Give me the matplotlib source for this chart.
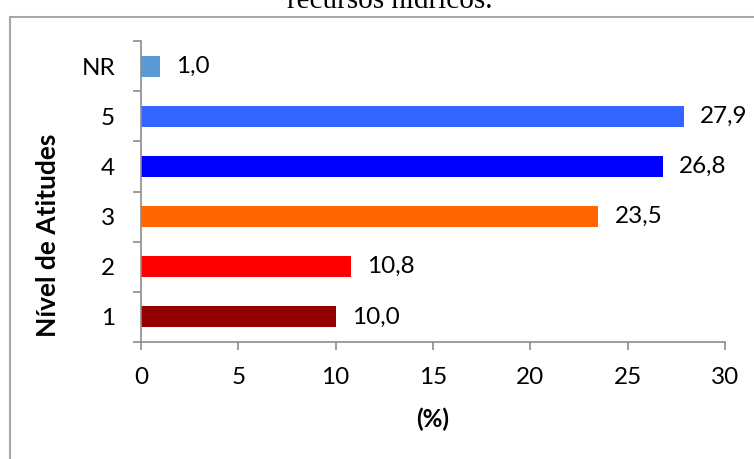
import matplotlib
matplotlib.use('Agg')
import matplotlib.pyplot as plt
from matplotlib.patches import Rectangle

# ─────────────────────────────────────────────
# Data
# ─────────────────────────────────────────────
categories = ['1', '2', '3', '4', '5', 'NR']
values     = [10.0, 10.8, 23.5, 26.8, 27.9, 1.0]
colors     = ['#940000', '#FF0000', '#FF6600', '#0000FF', '#3366FF', '#5B9BD5']
x_ticks    = [0, 5, 10, 15, 20, 25, 30]

plt.rcParams['font.family'] = ['Lato', 'DejaVu Sans']
FS  = 17.5
AXC = '#8C8C8C'
PX  = 0.72          # points per pixel at dpi=100

fig = plt.figure(figsize=(7.54, 4.59), dpi=100)
ax = fig.add_axes([141/754, 1 - 342/459, (725 - 141)/754, (342 - 41)/459])

ypos = list(range(len(categories)))
ax.barh(ypos, values, height=0.42, color=colors)
for y, v in zip(ypos, values):
    ax.text(v + 0.82, y, f"{v:.1f}".replace('.', ','), va='center', ha='left',
            fontsize=FS, color='black')

ax.set_xlim(0, 30)
ax.set_ylim(-0.5, len(categories) - 0.5)
ax.set_xticks(x_ticks)
ax.set_xticklabels([str(t) for t in x_ticks], fontsize=FS)
ax.set_yticks(ypos)
ax.set_yticklabels(categories, fontsize=FS)
ax.set_yticks([i - 0.5 for i in range(len(categories) + 1)], minor=True)

ax.tick_params(axis='y', which='major', length=0, pad=26*PX)
ax.tick_params(axis='y', which='minor', length=8*PX, color=AXC, width=1.2, direction='out')
ax.tick_params(axis='x', which='major', length=8*PX, color=AXC, width=1.2,
               direction='out', pad=12.5)

for s in ['top', 'right']:
    ax.spines[s].set_visible(False)
for s in ['left', 'bottom']:
    ax.spines[s].set_color(AXC)
    ax.spines[s].set_linewidth(1.2)

ax.set_xlabel('(%)', fontsize=FS, fontweight='bold', labelpad=14)
fig.text(48/754, 1 - 235/459, 'Nível de Atitudes', rotation=90, ha='center',
         va='center', fontsize=19, fontweight='bold')

# chart frame (cut off at right and bottom) and cropped caption above it
fig.patches.append(Rectangle((10/754, -0.2), 2.0, 1.2 - 17/459,
                             transform=fig.transFigure, fill=False,
                             edgecolor='#A6A6A6', linewidth=1.5))
fig.text(390/754, 1 - 8/459, 'recursos hídricos.', ha='center', va='baseline',
         fontsize=21, family=['Liberation Serif', 'DejaVu Serif'])

fig.savefig('out.png', dpi=100)
